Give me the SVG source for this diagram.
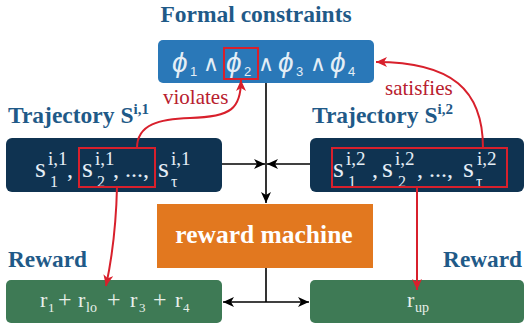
<svg xmlns="http://www.w3.org/2000/svg" width="525" height="326" viewBox="0 0 525 326">
<defs>
<marker id="ah" markerUnits="userSpaceOnUse" markerWidth="12" markerHeight="10" refX="11" refY="5" orient="auto">
<path d="M0,0 L11,5 L0,10 L3,5 z" fill="#000"/>
</marker>
<marker id="ahr" markerUnits="userSpaceOnUse" markerWidth="12" markerHeight="10" refX="11" refY="5" orient="auto">
<path d="M0,0 L11,5 L0,10 L3,5 z" fill="#d8202c"/>
</marker>
<style>
.title{font-family:"Liberation Serif","Times New Roman",serif;font-weight:bold;fill:#1f5a88}
.serif{font-family:"Liberation Serif","Times New Roman",serif}
.lt{fill:#e4eef6}
.blk{stroke:#000;stroke-width:1.6;fill:none}
.red{stroke:#d8202c;stroke-width:2;fill:none}
.redtxt{font-family:"Liberation Serif","Times New Roman",serif;fill:#b8202e;font-size:21px}
</style>
</defs>
<rect width="525" height="326" fill="#fff"/>

<g id="constraints">
<text class="title" x="256" y="22" font-size="23.5" text-anchor="middle">Formal constraints</text>
<rect x="158" y="40" width="216" height="43" rx="5" fill="#2a78b8"/>
<text font-family="'Liberation Sans','DejaVu Sans',sans-serif" font-style="italic" fill="#e4eef6" font-size="28">
<tspan x="172" y="72">ϕ</tspan><tspan x="190" y="76" font-size="13" font-style="normal">1</tspan>
<tspan x="203" y="71" font-size="22" font-style="normal">∧</tspan>
<tspan x="226" y="72">ϕ</tspan><tspan x="244" y="76" font-size="13" font-style="normal">2</tspan>
<tspan x="258" y="71" font-size="22" font-style="normal">∧</tspan>
<tspan x="278" y="72">ϕ</tspan><tspan x="296" y="76" font-size="13" font-style="normal">3</tspan>
<tspan x="310" y="71" font-size="22" font-style="normal">∧</tspan>
<tspan x="330" y="72">ϕ</tspan><tspan x="348" y="76" font-size="13" font-style="normal">4</tspan>
</text>
<rect x="224" y="48" width="34" height="31" fill="none" stroke="#d8202c" stroke-width="2"/>
</g>

<g id="traj1">
<text class="title" x="8" y="123" font-size="23.5">Trajectory S<tspan dy="-9" font-size="15">i,1</tspan></text>
<rect x="6" y="138" width="216" height="54" rx="6" fill="#0f3351"/>
<text class="serif lt" font-size="28">
<tspan x="35" y="177">s</tspan><tspan x="48" y="165" font-size="19">i,1</tspan><tspan x="50" y="187" font-size="16">1</tspan>
<tspan x="67" y="177" font-size="24">,</tspan>
<tspan x="82" y="177">s</tspan><tspan x="95" y="165" font-size="19">i,1</tspan><tspan x="97" y="187" font-size="16">2</tspan>
<tspan x="113" y="177" font-size="24">, ...,</tspan>
<tspan x="158" y="177">s</tspan><tspan x="171" y="165" font-size="19">i,1</tspan><tspan x="171" y="187" font-size="16">τ</tspan>
</text>
<rect x="79" y="148" width="76" height="39" fill="none" stroke="#d8202c" stroke-width="2"/>
</g>

<g id="traj2">
<text class="title" x="312" y="123" font-size="23.5">Trajectory S<tspan dy="-9" font-size="15">i,2</tspan></text>
<rect x="310" y="138" width="214" height="54" rx="6" fill="#0f3351"/>
<text class="serif lt" font-size="28">
<tspan x="333" y="177">s</tspan><tspan x="346" y="165" font-size="19">i,2</tspan><tspan x="348" y="187" font-size="16">1</tspan>
<tspan x="372" y="177" font-size="24">,</tspan>
<tspan x="382" y="177">s</tspan><tspan x="395" y="165" font-size="19">i,2</tspan><tspan x="398" y="187" font-size="16">2</tspan>
<tspan x="417" y="177" font-size="24">, ...,</tspan>
<tspan x="463" y="177">s</tspan><tspan x="477" y="165" font-size="19">i,2</tspan><tspan x="476" y="187" font-size="16">τ</tspan>
</text>
<rect x="332" y="148" width="175" height="39" fill="none" stroke="#d8202c" stroke-width="2"/>
</g>

<g id="machine">
<rect x="157" y="204" width="216" height="64" fill="#e2781f"/>
<text class="serif" x="264" y="243" font-size="25.5" font-weight="bold" fill="#fff" text-anchor="middle">reward machine</text>
</g>

<g id="reward1">
<text class="title" x="8" y="267" font-size="23.3">Reward</text>
<rect x="6" y="280" width="216" height="43" rx="5" fill="#3e7a55"/>
<text class="serif" fill="#e8f0ea" font-size="22">
<tspan x="40" y="307">r</tspan><tspan x="48" y="312" font-size="13">1</tspan>
<tspan x="58" y="307" font-size="24">+</tspan>
<tspan x="78" y="307">r</tspan><tspan x="86" y="312" font-size="14">lo</tspan>
<tspan x="107" y="307" font-size="24">+</tspan>
<tspan x="130" y="307">r</tspan><tspan x="139" y="312" font-size="13">3</tspan>
<tspan x="153" y="307" font-size="24">+</tspan>
<tspan x="175" y="307">r</tspan><tspan x="183" y="312" font-size="13">4</tspan>
</text>
</g>

<g id="reward2">
<text class="title" x="522" y="267" font-size="23.3" text-anchor="end">Reward</text>
<rect x="310" y="280" width="214" height="43" rx="5" fill="#3e7a55"/>
<text class="serif" fill="#e8f0ea" font-size="22">
<tspan x="407" y="307">r</tspan><tspan x="415" y="312" font-size="14">up</tspan>
</text>
</g>

<g id="connectors">
<path class="blk" d="M266,83 V203" marker-end="url(#ah)"/>
<path class="blk" d="M222,164 H265" marker-end="url(#ah)"/>
<path class="blk" d="M310,164 H267" marker-end="url(#ah)"/>
<path class="blk" d="M266,268 V302"/>
<path class="blk" d="M266,302 H223" marker-end="url(#ah)"/>
<path class="blk" d="M266,302 H309" marker-end="url(#ah)"/>
<path class="red" d="M137,148 C137,124 160,119 190,118 C232,117 241,108 241,80" marker-end="url(#ahr)"/>
<path class="red" d="M117,187 C116,230 112,258 106,286" marker-end="url(#ahr)"/>
<path class="red" d="M483,148 C483,90 452,62 376,62" marker-end="url(#ahr)"/>
<path class="red" d="M417,187 V290" marker-end="url(#ahr)"/>
<text class="redtxt" x="163" y="104">violates</text>
<text class="redtxt" x="385" y="95">satisfies</text>
</g>
</svg>
